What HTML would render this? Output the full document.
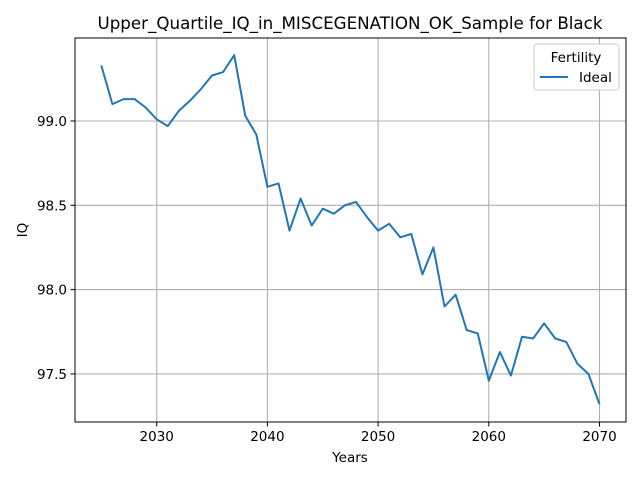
<!DOCTYPE html>
<html><head><meta charset="utf-8"><style>
body{margin:0;background:#fff;font-family:"Liberation Sans",sans-serif;}
svg text{font-family:"DejaVu Sans","Liberation Sans",sans-serif;}
</style></head><body>
<svg id="chart" width="640" height="480" xmlns="http://www.w3.org/2000/svg">
<rect width="640" height="480" fill="#fff"/>
<g id="grid"></g>
<g id="ticks"></g>
<path id="series" fill="none" stroke="#1f77b4" stroke-width="2" stroke-linejoin="round"/>
<rect x="75" y="38" width="551" height="384" fill="none" stroke="#000" stroke-width="1"/>
<text x="350" y="29" font-size="16.7" text-anchor="middle">Upper_Quartile_IQ_in_MISCEGENATION_OK_Sample for Black</text>
<text x="350" y="462" font-size="13.5" text-anchor="middle">Years</text>
<text x="27" y="230" font-size="13.5" text-anchor="middle" transform="rotate(-90 27 230)">IQ</text>
<g>
<rect x="534" y="44" width="85" height="46" rx="3" fill="#fff" stroke="#ccc"/>
<text x="576" y="62" font-size="13.5" text-anchor="middle">Fertility</text>
<line x1="540" y1="77" x2="568" y2="77" stroke="#1f77b4" stroke-width="2"/>
<text x="579" y="82" font-size="13.5">Ideal</text>
</g>
</svg>
<script>
const years=[];for(let y=2025;y<=2070;y++)years.push(y);
const iqValues=[99.33,99.10,99.13,99.13,99.08,99.01,98.97,99.06,99.12,99.19,99.27,99.29,99.39,99.03,98.92,98.61,98.63,98.35,98.54,98.38,98.48,98.45,98.50,98.52,98.43,98.35,98.39,98.31,98.33,98.09,98.25,97.90,97.97,97.76,97.74,97.46,97.63,97.49,97.72,97.71,97.80,97.71,97.69,97.56,97.50,97.32];
const xTicks=[2030,2040,2050,2060,2070];
const yTicks=[97.5,98.0,98.5,99.0];
const yTickLabels=["97.5","98.0","98.5","99.0"];
const xs=v=>156.7+(v-2030)*11.07;
const ys=v=>121+(99-v)*168.6;
const NS="http://www.w3.org/2000/svg";
const grid=document.getElementById('grid'),ticks=document.getElementById('ticks');
function mk(tag,attrs,parent){const e=document.createElementNS(NS,tag);for(const k in attrs)e.setAttribute(k,attrs[k]);parent.appendChild(e);return e;}
xTicks.forEach(t=>{const x=xs(t);
const g=mk('line',{x1:x,x2:x,y1:38,y2:422,stroke:'#b0b0b0','stroke-width':1.1},grid);


mk('line',{x1:x,x2:x,y1:422,y2:426.5,stroke:'#000','stroke-width':1},ticks);
const tx=mk('text',{x:x,y:441,'font-size':13.5,'text-anchor':'middle'},ticks);tx.textContent=t;

});
yTicks.forEach((t,i)=>{const y=ys(t);
const g=mk('line',{x1:75,x2:626,y1:y,y2:y,stroke:'#b0b0b0','stroke-width':1.1},grid);


mk('line',{x1:70.5,x2:75,y1:y,y2:y,stroke:'#000','stroke-width':1},ticks);
const tx=mk('text',{x:67,y:y+5,'font-size':13.5,'text-anchor':'end'},ticks);tx.textContent=yTickLabels[i];

});
document.getElementById('series').setAttribute('d',years.map((y,i)=>(i?'L':'M')+xs(y).toFixed(1)+','+ys(iqValues[i]).toFixed(1)).join(''));
</script>
</body></html>
